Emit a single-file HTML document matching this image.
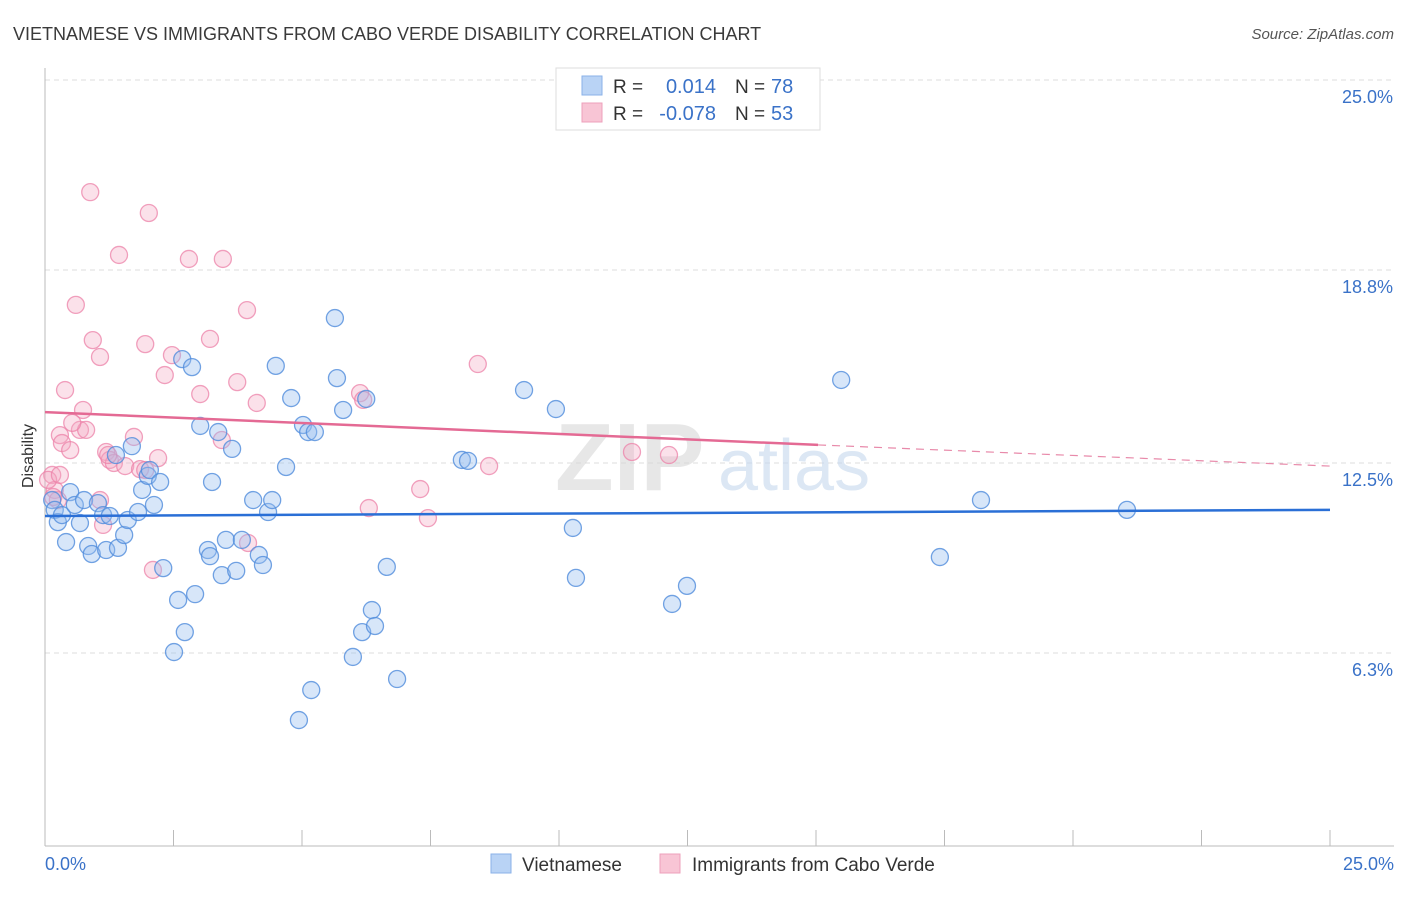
<!DOCTYPE html>
<html><head><meta charset="utf-8"><style>
body{margin:0;background:#fff;font-family:"Liberation Sans",sans-serif;}
svg text{font-family:"Liberation Sans",sans-serif;}
</style></head><body>
<svg id="chart" width="1406" height="892" xmlns="http://www.w3.org/2000/svg">
<text x="13" y="40" font-size="18" fill="#3a3a3a">VIETNAMESE VS IMMIGRANTS FROM CABO VERDE DISABILITY CORRELATION CHART</text>
<text x="1394" y="39" font-size="15" fill="#555" font-style="italic" text-anchor="end">Source: ZipAtlas.com</text>
<g id="grid"></g>
<text x="555" y="490" font-size="96" fill="#d8d8d8" font-family="Liberation Serif" font-weight="bold" opacity="0.6">ZIP</text>
<text x="718" y="490" font-size="72" fill="#c5d8ee" opacity="0.6">atlas</text>
<g id="pts"></g>
<g id="trends"></g>
<text transform="translate(33,456) rotate(-90)" font-size="16" fill="#333" text-anchor="middle">Disability</text>
<g>
<rect x="556" y="68" width="264" height="62" fill="#fff" stroke="#ddd"/>
<rect x="582" y="76" width="20" height="19" fill="#b9d3f5" stroke="#8ab2e8"/>
<rect x="582" y="103" width="20" height="19" fill="#f8c5d5" stroke="#eea0bb"/>
<text x="613" y="93" font-size="19" fill="#333">R =</text>
<text x="716" y="93" font-size="20" fill="#3a72c8" text-anchor="end">0.014</text>
<text x="735" y="93" font-size="19" fill="#333">N =</text>
<text x="771" y="93" font-size="20" fill="#3a72c8">78</text>
<text x="613" y="120" font-size="19" fill="#333">R =</text>
<text x="716" y="120" font-size="20" fill="#3a72c8" text-anchor="end">-0.078</text>
<text x="735" y="120" font-size="19" fill="#333">N =</text>
<text x="771" y="120" font-size="20" fill="#3a72c8">53</text>
</g>
<g>
<rect x="491" y="854" width="20" height="19" fill="#b9d3f5" stroke="#8ab2e8"/>
<text x="522" y="871" font-size="19" fill="#333">Vietnamese</text>
<rect x="660" y="854" width="20" height="19" fill="#f8c5d5" stroke="#eea0bb"/>
<text x="692" y="871" font-size="19" fill="#333">Immigrants from Cabo Verde</text>
</g>
</svg>
<script>
const yTicks=[25,18.8,12.5,6.3];
const yTickLabels=["25.0%","18.8%","12.5%","6.3%"];
const xTickLabels=["0.0%","25.0%"];
const blue=[[0.14,11.29],[0.19,10.97],[0.25,10.57],[0.33,10.80],[0.41,9.92],[0.49,11.55],[0.58,11.13],[0.68,10.54],[0.76,11.29],[0.84,9.79],[0.91,9.53],[1.03,11.19],[1.13,10.80],[1.19,9.66],[1.26,10.77],[1.38,12.76],[1.42,9.73],[1.54,10.15],[1.61,10.64],[1.69,13.05],[1.81,10.90],[1.89,11.62],[2.00,12.08],[2.04,12.27],[2.12,11.13],[2.24,11.88],[2.30,9.07],[2.59,8.03],[2.67,15.89],[2.72,6.98],[2.86,15.63],[2.92,8.22],[2.51,6.33],[3.02,13.71],[3.17,9.66],[3.21,9.46],[3.25,11.88],[3.37,13.51],[3.44,8.84],[3.52,9.99],[3.64,12.96],[3.72,8.98],[3.83,9.99],[4.05,11.29],[4.16,9.50],[4.24,9.17],[4.34,10.90],[4.42,11.29],[4.49,15.67],[4.69,12.37],[4.79,14.62],[5.02,13.74],[5.12,13.51],[5.25,13.51],[5.18,5.09],[4.94,4.11],[5.64,17.23],[5.68,15.27],[5.80,14.23],[5.99,6.17],[6.17,6.98],[6.25,14.59],[6.36,7.70],[6.42,7.18],[6.65,9.11],[6.85,5.45],[8.11,12.60],[8.23,12.57],[9.32,14.88],[9.94,14.26],[10.27,10.38],[10.33,8.75],[12.20,7.90],[12.49,8.49],[15.49,15.21],[17.41,9.43],[18.21,11.29],[21.05,10.97]];
const pink=[[0.14,12.11],[0.19,11.62],[0.25,11.29],[0.29,13.41],[0.33,13.15],[0.39,14.88],[0.49,12.92],[0.60,17.66],[0.68,13.58],[0.74,14.23],[0.80,13.58],[0.88,21.34],[0.93,16.51],[1.07,15.96],[1.13,10.48],[1.19,12.86],[1.26,12.60],[1.34,12.50],[1.44,19.29],[1.56,12.40],[1.73,13.35],[1.85,12.30],[1.95,16.38],[2.02,20.66],[2.10,9.01],[2.20,12.66],[2.33,15.37],[2.47,16.02],[2.80,19.16],[3.02,14.75],[3.21,16.55],[3.44,13.25],[3.46,19.16],[3.74,15.14],[3.93,17.49],[3.95,9.89],[4.12,14.46],[6.13,14.78],[6.19,14.56],[6.30,11.03],[7.30,11.65],[7.45,10.70],[8.42,15.73],[8.64,12.40],[11.42,12.86],[12.14,12.76],[0.16,11.39],[0.06,11.95],[0.53,13.81],[1.23,12.76],[1.95,12.27],[0.29,12.11],[1.07,11.29]];
const blueTrend=[[0,10.77],[25,10.97]];
const pinkTrendSolid=[[0,14.16],[15.04,13.09]];
const pinkTrendDashed=[[15.04,13.09],[25,12.40]];
const NS='http://www.w3.org/2000/svg';
const X=v=>45+v*51.4;
const Y=v=>846-v*30.64;
function mk(tag,attrs,parent){const e=document.createElementNS(NS,tag);for(const k in attrs)e.setAttribute(k,attrs[k]);parent.appendChild(e);return e;}
const grid=document.getElementById('grid');
yTicks.forEach((t,i)=>{
 const l=mk('line',{x1:45,x2:1394,y1:Y(t),y2:Y(t),stroke:'#ddd','stroke-dasharray':'5,4'},grid);
 
 
 const tx=mk('text',{x:1393,y:Y(t)+23,'font-size':18,fill:'#3a72c8','text-anchor':'end'},grid);
 tx.textContent=yTickLabels[i];
 
 
});
const ax=mk('line',{x1:45,x2:45,y1:68,y2:846,stroke:'#bbb'},grid);


const bx=mk('line',{x1:45,x2:1394,y1:846,y2:846,stroke:'#bbb'},grid);


for(let i=0;i<=10;i++){
 const v=i*2.5;
 const t=mk('line',{x1:X(v),x2:X(v),y1:830,y2:846,stroke:'#bbb'},grid);
 
 
}
[[0,'start',45],[25,'end',1394]].forEach((d,i)=>{
 const tx=mk('text',{x:d[2],y:870,'font-size':18,fill:'#3a72c8','text-anchor':d[1]},grid);
 tx.textContent=xTickLabels[i];
 
 
});
const pts=document.getElementById('pts');
pink.forEach(p=>{
 const c=mk('circle',{cx:X(p[0]),cy:Y(p[1]),r:8.5,fill:'rgba(244,170,196,0.35)',stroke:'rgba(236,130,168,0.75)','stroke-width':1.3},pts);
 
 
});
blue.forEach(p=>{
 const c=mk('circle',{cx:X(p[0]),cy:Y(p[1]),r:8.5,fill:'rgba(150,190,240,0.38)',stroke:'rgba(80,140,220,0.8)','stroke-width':1.3},pts);
 
 
});
const tr=document.getElementById('trends');
const bl=mk('line',{x1:X(blueTrend[0][0]),y1:Y(blueTrend[0][1]),x2:X(blueTrend[1][0]),y2:Y(blueTrend[1][1]),stroke:'#2a6fd6','stroke-width':2.5},tr);


const pl=mk('line',{x1:X(pinkTrendSolid[0][0]),y1:Y(pinkTrendSolid[0][1]),x2:X(pinkTrendSolid[1][0]),y2:Y(pinkTrendSolid[1][1]),stroke:'#e46a94','stroke-width':2.5},tr);


const pd=mk('line',{x1:X(pinkTrendDashed[0][0]),y1:Y(pinkTrendDashed[0][1]),x2:X(pinkTrendDashed[1][0]),y2:Y(pinkTrendDashed[1][1]),stroke:'#e88aaa','stroke-width':1.2,'stroke-dasharray':'8,6'},tr);


</script>
</body></html>
